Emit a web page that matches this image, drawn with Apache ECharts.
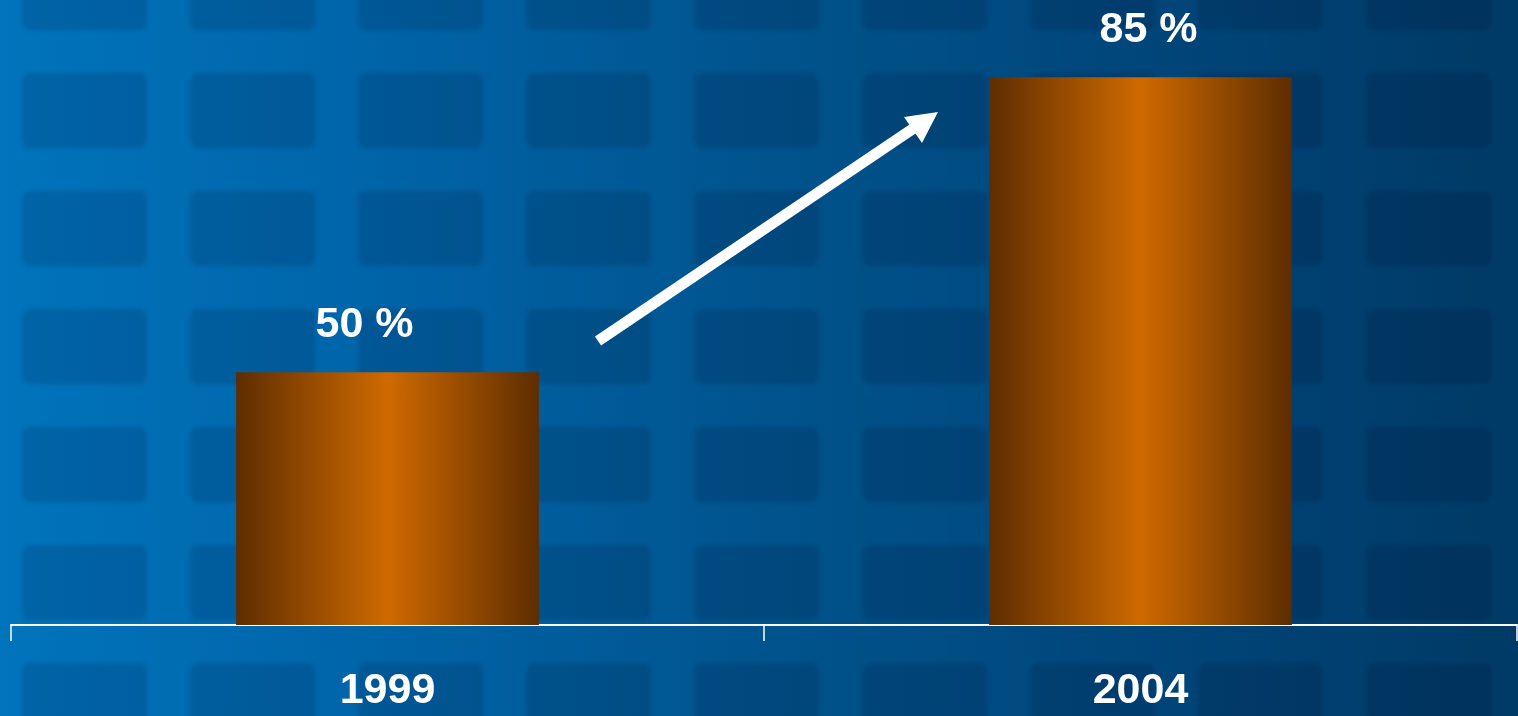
<!DOCTYPE html>
<html>
<head>
<meta charset="utf-8">
<script src="https://cdn.jsdelivr.net/npm/echarts@6/dist/echarts.min.js"></script>
<style>
html,body{margin:0;padding:0;width:1518px;height:716px;overflow:hidden;}
body{
  position:relative;
  background-color:#005a98;
  background-image:linear-gradient(to right, #0074bc 0%, #0064a8 25%, #00548e 50%, #00467a 75%, #003a66 100%);
}
body::before{
  content:'';
  position:absolute;left:-10px;top:-10px;width:1540px;height:740px;
  background-image:url("data:image/svg+xml;utf8,<svg xmlns='http://www.w3.org/2000/svg' width='168' height='118'><rect x='0' y='0' width='125' height='75' rx='8' ry='8' fill='rgb(0,0,25)' fill-opacity='0.13'/></svg>");
  background-size:168px 118px;
  background-position:32px 83px;
  background-repeat:repeat;
  filter:blur(2px);
  z-index:0;
}
#chart{position:relative;z-index:1;width:1518px;height:716px;}
</style>
</head>
<body>
<div id="chart"></div>
<script>
const categories = ['1999', '2004'];
const values = [50, 85];
const labelOffsets = [[-23, 0], [8, 0]];

const chart = echarts.init(document.getElementById('chart'), null, {renderer: 'canvas'});

const barGradient = new echarts.graphic.LinearGradient(0, 0, 1, 0, [
  {offset: 0, color: '#5e2d00'},
  {offset: 0.5, color: '#cf6a00'},
  {offset: 1, color: '#5e2d00'}
]);

const option = {
  backgroundColor: 'transparent',
  animation: false,
  grid: {left: 11, right: 1, top: 35, bottom: 91, containLabel: false},
  xAxis: {
    type: 'category',
    data: categories,
    boundaryGap: true,
    axisLine: {show: true, lineStyle: {color: '#ffffff', width: 2}},
    axisTick: {show: true, length: 16, lineStyle: {color: '#ffffff', width: 1.5}},
    axisLabel: {
      color: '#ffffff',
      fontFamily: 'Liberation Sans, Arial, sans-serif',
      fontWeight: 'bold',
      fontSize: 43,
      margin: 45
    }
  },
  yAxis: {
    type: 'value',
    min: 20,
    max: 90,
    show: false,
    splitLine: {show: false}
  },
  series: [{
    type: 'bar',
    barWidth: '40.2%',
    data: values.map((v, i) => ({
      value: v,
      label: {offset: labelOffsets[i]}
    })),
    itemStyle: {color: barGradient},
    label: {
      show: true,
      position: 'top',
      distance: 26,
      formatter: '{c} %',
      color: '#ffffff',
      fontFamily: 'Liberation Sans, Arial, sans-serif',
      fontWeight: 'bold',
      fontSize: 43
    }
  }],
  graphic: [
    {
      type: 'line',
      shape: {x1: 598, y1: 341, x2: 917, y2: 126},
      style: {stroke: '#ffffff', lineWidth: 11, lineCap: 'butt'},
      z: 100
    },
    {
      type: 'polygon',
      shape: {points: [[904, 117], [938, 112], [922, 143]]},
      style: {fill: '#ffffff'},
      z: 100
    }
  ]
};
chart.setOption(option);
</script>
</body>
</html>
